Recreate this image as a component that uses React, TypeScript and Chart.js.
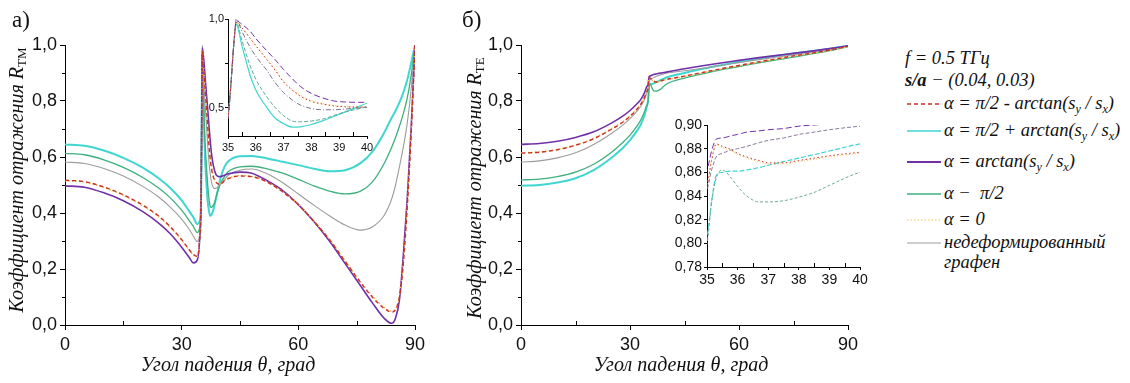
import React, { useEffect, useRef } from 'react';
import { Chart, registerables } from 'chart.js';

Chart.register(...registerables);

// ---------- Panel а) : R_TM ----------
const anglesTM = [0, 5, 10, 15, 20, 24, 27, 30, 32, 33, 34, 34.6, 35, 35.1, 35.2, 35.3, 35.5, 35.8, 36, 36.4, 36.7, 37, 37.3, 37.6, 38, 38.4, 38.8, 39.2, 39.6, 40, 41, 42, 45, 48, 52, 56, 60, 64, 68, 72, 76, 79, 82, 84, 85, 86, 87, 88, 89, 90];
const tmPlus = [0.645, 0.640, 0.623, 0.597, 0.562, 0.525, 0.49, 0.445, 0.405, 0.385, 0.36, 0.37, 0.45, 0.62, 0.84, 0.97, 0.85, 0.68, 0.60, 0.50, 0.44, 0.41, 0.39, 0.392, 0.405, 0.425, 0.45, 0.475, 0.50, 0.525, 0.565, 0.585, 0.603, 0.604, 0.595, 0.583, 0.571, 0.558, 0.549, 0.553, 0.578, 0.618, 0.685, 0.74, 0.765, 0.795, 0.83, 0.875, 0.935, 1.0];
const tmHalfPi = [0.613, 0.608, 0.590, 0.563, 0.527, 0.49, 0.455, 0.41, 0.372, 0.352, 0.33, 0.345, 0.45, 0.62, 0.84, 0.98, 0.88, 0.735, 0.66, 0.56, 0.50, 0.455, 0.425, 0.42, 0.425, 0.435, 0.455, 0.475, 0.49, 0.505, 0.53, 0.548, 0.565, 0.567, 0.558, 0.542, 0.52, 0.497, 0.478, 0.468, 0.478, 0.51, 0.575, 0.635, 0.67, 0.71, 0.755, 0.81, 0.89, 1.0];
const tmPristine = [0.582, 0.577, 0.559, 0.532, 0.495, 0.458, 0.422, 0.378, 0.34, 0.318, 0.298, 0.32, 0.45, 0.62, 0.85, 1.0, 0.93, 0.84, 0.79, 0.71, 0.64, 0.585, 0.545, 0.515, 0.495, 0.488, 0.488, 0.492, 0.497, 0.502, 0.52, 0.535, 0.553, 0.557, 0.54, 0.508, 0.468, 0.428, 0.39, 0.357, 0.339, 0.35, 0.39, 0.45, 0.50, 0.565, 0.635, 0.72, 0.84, 1.0];
const tmMinus = [0.517, 0.512, 0.493, 0.465, 0.428, 0.39, 0.352, 0.305, 0.268, 0.252, 0.245, 0.30, 0.45, 0.62, 0.84, 0.98, 0.95, 0.89, 0.85, 0.77, 0.71, 0.645, 0.60, 0.565, 0.535, 0.52, 0.51, 0.505, 0.503, 0.503, 0.515, 0.523, 0.532, 0.53, 0.51, 0.475, 0.43, 0.37, 0.305, 0.228, 0.152, 0.10, 0.06, 0.046, 0.055, 0.10, 0.22, 0.42, 0.68, 1.0];
const tmZero = [0.515, 0.51, 0.491, 0.463, 0.426, 0.388, 0.35, 0.303, 0.266, 0.25, 0.244, 0.30, 0.45, 0.62, 0.84, 0.98, 0.95, 0.89, 0.85, 0.775, 0.715, 0.65, 0.605, 0.57, 0.54, 0.523, 0.512, 0.507, 0.505, 0.505, 0.517, 0.525, 0.534, 0.531, 0.511, 0.476, 0.431, 0.372, 0.307, 0.23, 0.155, 0.104, 0.064, 0.05, 0.058, 0.105, 0.225, 0.425, 0.685, 1.0];
const tmArctan = [0.497, 0.492, 0.472, 0.444, 0.405, 0.365, 0.327, 0.278, 0.24, 0.222, 0.232, 0.30, 0.45, 0.62, 0.84, 0.99, 0.97, 0.93, 0.89, 0.82, 0.77, 0.715, 0.665, 0.62, 0.58, 0.555, 0.538, 0.532, 0.53, 0.53, 0.535, 0.54, 0.546, 0.542, 0.515, 0.48, 0.43, 0.37, 0.30, 0.22, 0.14, 0.08, 0.025, 0.006, 0.025, 0.09, 0.25, 0.45, 0.70, 1.0];

// ---------- Panel б) : R_TE ----------
const anglesTE = [0, 5, 10, 15, 20, 25, 28, 30, 32, 33, 34, 34.5, 35, 35.15, 35.3, 35.5, 35.8, 36, 36.3, 36.7, 37, 37.5, 38, 38.5, 39, 40, 45, 50, 55, 60, 65, 70, 75, 80, 85, 90];
const tePlus = [0.497, 0.500, 0.509, 0.524, 0.553, 0.598, 0.632, 0.66, 0.695, 0.717, 0.75, 0.775, 0.805, 0.835, 0.857, 0.86, 0.861, 0.861, 0.862, 0.864, 0.866, 0.869, 0.872, 0.875, 0.878, 0.884, 0.9, 0.915, 0.928, 0.94, 0.951, 0.961, 0.97, 0.978, 0.987, 0.997];
const teHalfPi = [0.518, 0.521, 0.53, 0.546, 0.574, 0.618, 0.652, 0.678, 0.712, 0.733, 0.762, 0.782, 0.80, 0.835, 0.855, 0.862, 0.855, 0.848, 0.84, 0.835, 0.835, 0.836, 0.839, 0.843, 0.849, 0.86, 0.882, 0.897, 0.911, 0.923, 0.935, 0.946, 0.957, 0.968, 0.98, 0.994];
const tePristine = [0.582, 0.586, 0.597, 0.615, 0.645, 0.685, 0.714, 0.737, 0.765, 0.782, 0.806, 0.825, 0.845, 0.862, 0.873, 0.876, 0.879, 0.88, 0.882, 0.885, 0.887, 0.889, 0.892, 0.894, 0.896, 0.899, 0.908, 0.917, 0.927, 0.937, 0.947, 0.956, 0.965, 0.975, 0.985, 0.996];
const teMinus = [0.614, 0.617, 0.626, 0.642, 0.665, 0.70, 0.724, 0.745, 0.772, 0.789, 0.813, 0.83, 0.848, 0.87, 0.884, 0.882, 0.879, 0.876, 0.873, 0.87, 0.868, 0.868, 0.87, 0.872, 0.874, 0.877, 0.889, 0.902, 0.915, 0.927, 0.939, 0.95, 0.961, 0.971, 0.982, 0.995];
const teZero = [0.615, 0.618, 0.627, 0.643, 0.667, 0.702, 0.726, 0.747, 0.774, 0.791, 0.815, 0.832, 0.85, 0.871, 0.883, 0.881, 0.878, 0.875, 0.872, 0.869, 0.867, 0.867, 0.869, 0.871, 0.873, 0.876, 0.888, 0.901, 0.914, 0.926, 0.938, 0.949, 0.96, 0.97, 0.981, 0.994];
const teArctan = [0.645, 0.648, 0.656, 0.67, 0.69, 0.722, 0.746, 0.766, 0.791, 0.806, 0.83, 0.848, 0.862, 0.878, 0.888, 0.889, 0.891, 0.892, 0.894, 0.895, 0.896, 0.897, 0.899, 0.9, 0.901, 0.903, 0.915, 0.926, 0.936, 0.945, 0.954, 0.962, 0.97, 0.978, 0.987, 0.997];

// ---------- Ticks ----------
const mainXTicks = [0, 30, 60, 90];
const mainXMinor = [15, 45, 75];
const mainYTicks = [0, 0.2, 0.4, 0.6, 0.8, 1.0];
const mainYMinor = [0.1, 0.3, 0.5, 0.7, 0.9];
const insetXTicks = [35, 36, 37, 38, 39, 40];
const insetXMinor = [35.5, 36.5, 37.5, 38.5, 39.5];
const insetAYTicks = [0.5, 1.0];
const insetAYMinor = [0.75];
const insetBYTicks = [0.78, 0.8, 0.82, 0.84, 0.86, 0.88, 0.9];
const insetBYMinor: number[] = [];

// ---------- Styles ----------
const C_MINUS = '#C8302A';
const C_PLUS = '#3FD6D2';
const C_ARCTAN = '#7030A8';
const C_HALF = '#3DB07C';
const C_ZERO = '#F0BE4A';
const C_PRIST = '#9C9C9C';

type Series = { values: number[]; color: string; width: number; dash: number[] };

const tmMainSeries: Series[] = [
  { values: tmMinus, color: C_MINUS, width: 1.4, dash: [4, 3] },
  { values: tmZero, color: C_ZERO, width: 1.4, dash: [1.5, 2] },
  { values: tmArctan, color: C_ARCTAN, width: 1.6, dash: [] },
  { values: tmPristine, color: C_PRIST, width: 1.1, dash: [] },
  { values: tmHalfPi, color: C_HALF, width: 1.3, dash: [] },
  { values: tmPlus, color: C_PLUS, width: 2, dash: [] },
];
const tmInsetSeries: Series[] = [
  { values: tmMinus, color: C_MINUS, width: 1, dash: [1.5, 2.5] },
  { values: tmZero, color: C_ZERO, width: 1, dash: [1, 2] },
  { values: tmArctan, color: C_ARCTAN, width: 1, dash: [6, 3] },
  { values: tmPristine, color: '#7a7090', width: 1, dash: [5, 2, 1, 2] },
  { values: tmHalfPi, color: '#5aa89a', width: 1, dash: [4, 2] },
  { values: tmPlus, color: C_PLUS, width: 1.2, dash: [] },
];
const teMainSeries: Series[] = [
  { values: teMinus, color: C_MINUS, width: 1.4, dash: [4, 3] },
  { values: teZero, color: C_ZERO, width: 1.4, dash: [1.5, 2] },
  { values: teArctan, color: C_ARCTAN, width: 1.6, dash: [] },
  { values: tePristine, color: C_PRIST, width: 1.1, dash: [] },
  { values: teHalfPi, color: C_HALF, width: 1.3, dash: [] },
  { values: tePlus, color: C_PLUS, width: 2, dash: [] },
];
const teInsetSeries: Series[] = [
  { values: teMinus, color: C_MINUS, width: 1, dash: [1.5, 2.5] },
  { values: teZero, color: C_ZERO, width: 1, dash: [1, 2] },
  { values: teArctan, color: C_ARCTAN, width: 1, dash: [6, 3] },
  { values: tePristine, color: '#8a7a9a', width: 1, dash: [4, 2] },
  { values: teHalfPi, color: '#6aaa98', width: 1, dash: [3, 2] },
  { values: tePlus, color: C_PLUS, width: 1.2, dash: [5, 2] },
];

const SANS = '"Liberation Sans", Arial, sans-serif';
const SERIF = '"Liberation Serif", "Times New Roman", "DejaVu Serif", serif';

type Area = { l: number; r: number; t: number; b: number };
interface PlotProps {
  left: number; top: number; width: number; height: number;
  area: Area;
  xMin: number; xMax: number; xTicks: number[]; xMinor: number[];
  yMin: number; yMax: number; yTicks: number[]; yMinor: number[];
  yDecimals: number;
  fontSize: number;
  tickLen: number; xPad: number; yPad: number;
  angles: number[];
  series: Series[];
}

function Plot(p: PlotProps) {
  const ref = useRef<HTMLCanvasElement>(null);
  useEffect(() => {
    const canvas = ref.current!;
    const minorPlugin = {
      id: 'minorTicks',
      afterDraw(chart: any) {
        const { ctx, chartArea, scales } = chart;
        ctx.save();
        ctx.strokeStyle = '#000';
        ctx.lineWidth = 1;
        for (const v of p.xMinor) {
          const x = Math.round(scales.x.getPixelForValue(v)) + 0.5;
          ctx.beginPath();
          ctx.moveTo(x, chartArea.bottom);
          ctx.lineTo(x, chartArea.bottom - 4);
          ctx.stroke();
        }
        for (const v of p.yMinor) {
          const y = Math.round(scales.y.getPixelForValue(v)) + 0.5;
          ctx.beginPath();
          ctx.moveTo(chartArea.left, y);
          ctx.lineTo(chartArea.left - 3, y);
          ctx.stroke();
        }
        ctx.restore();
      },
    };
    const chart = new Chart(canvas, {
      type: 'line',
      data: {
        datasets: p.series.map((s) => ({
          data: p.angles.map((a, i) => ({ x: a, y: s.values[i] })),
          borderColor: s.color,
          borderWidth: s.width,
          borderDash: s.dash,
          pointRadius: 0,
          fill: false,
          cubicInterpolationMode: 'monotone' as const,
        })),
      },
      options: {
        responsive: false,
        animation: false,
        events: [],
        layout: { padding: { left: 0, top: p.area.t, right: p.width - p.area.r, bottom: 0 } },
        plugins: { legend: { display: false }, tooltip: { enabled: false } },
        scales: {
          x: {
            type: 'linear',
            min: p.xMin,
            max: p.xMax,
            afterBuildTicks: (s: any) => { s.ticks = p.xTicks.map((v) => ({ value: v })); },
            afterFit: (s: any) => { s.height = p.height - p.area.b; },
            ticks: {
              callback: (v: any) => String(v),
              font: { family: SANS, size: p.fontSize },
              color: '#111',
              padding: p.xPad,
              maxRotation: 0,
              autoSkip: false,
            },
            grid: { drawOnChartArea: false, drawTicks: true, tickLength: p.tickLen, color: '#000' },
            border: { color: '#000', width: 1 },
          },
          y: {
            type: 'linear',
            min: p.yMin,
            max: p.yMax,
            afterBuildTicks: (s: any) => { s.ticks = p.yTicks.map((v) => ({ value: v })); },
            afterFit: (s: any) => { s.width = p.area.l; },
            ticks: {
              callback: (v: any) => Number(v).toFixed(p.yDecimals).replace('.', ','),
              font: { family: SANS, size: p.fontSize },
              color: '#111',
              padding: p.yPad,
              autoSkip: false,
            },
            grid: { drawOnChartArea: false, drawTicks: true, tickLength: p.tickLen, color: '#000' },
            border: { color: '#000', width: 1 },
          },
        },
      },
      plugins: [minorPlugin],
    } as any);
    return () => chart.destroy();
  }, []);
  return (
    <canvas
      ref={ref}
      width={p.width}
      height={p.height}
      style={{ position: 'absolute', left: p.left, top: p.top, width: p.width, height: p.height }}
    />
  );
}

const abs = (l: number, cy: number, extra: React.CSSProperties = {}): React.CSSProperties => ({
  position: 'absolute', left: l, top: cy - 12, height: 24, lineHeight: '24px', whiteSpace: 'nowrap', ...extra,
});

const subStyle: React.CSSProperties = { fontSize: 12, verticalAlign: 'baseline', position: 'relative', top: 4 };

function LegendLine({ y, color, width, dash }: { y: number; color: string; width: number; dash: string }) {
  return (
    <svg style={{ position: 'absolute', left: 906, top: y - 3, width: 36, height: 6 }} width={36} height={6}>
      <line x1={1} y1={3} x2={35} y2={3} stroke={color} strokeWidth={width} strokeDasharray={dash} />
    </svg>
  );
}

const titleStyle: React.CSSProperties = {
  position: 'absolute', whiteSpace: 'nowrap', fontFamily: SERIF, fontStyle: 'italic', fontSize: 20, color: '#111',
};

export default function App() {
  const legendText: React.CSSProperties = { fontFamily: SERIF, fontStyle: 'italic', fontSize: 18.5, color: '#111' };
  return (
    <div style={{ position: 'fixed', left: 0, top: 0, width: 1130, height: 383, background: '#fff', overflow: 'hidden' }}>
      <Plot
        left={0} top={0} width={440} height={383}
        area={{ l: 65, r: 415, t: 45, b: 325 }}
        xMin={0} xMax={90} xTicks={mainXTicks} xMinor={mainXMinor}
        yMin={0} yMax={1} yTicks={mainYTicks} yMinor={mainYMinor} yDecimals={1}
        fontSize={18} tickLen={5} xPad={4} yPad={3}
        angles={anglesTM} series={tmMainSeries}
      />
      <Plot
        left={170} top={0} width={210} height={160}
        area={{ l: 58, r: 197, t: 19, b: 136 }}
        xMin={35} xMax={40} xTicks={insetXTicks} xMinor={insetXMinor}
        yMin={0.34} yMax={1} yTicks={insetAYTicks} yMinor={insetAYMinor} yDecimals={1}
        fontSize={11} tickLen={3} xPad={2} yPad={1}
        angles={anglesTM} series={tmInsetSeries}
      />
      <Plot
        left={440} top={0} width={440} height={383}
        area={{ l: 81, r: 408, t: 45, b: 325 }}
        xMin={0} xMax={90} xTicks={mainXTicks} xMinor={mainXMinor}
        yMin={0} yMax={1} yTicks={mainYTicks} yMinor={mainYMinor} yDecimals={1}
        fontSize={18} tickLen={5} xPad={4} yPad={3}
        angles={anglesTE} series={teMainSeries}
      />
      <Plot
        left={640} top={100} width={240} height={200}
        area={{ l: 67, r: 220, t: 25, b: 167 }}
        xMin={35} xMax={40} xTicks={insetXTicks} xMinor={insetXMinor}
        yMin={0.78} yMax={0.9} yTicks={insetBYTicks} yMinor={insetBYMinor} yDecimals={2}
        fontSize={14} tickLen={3} xPad={2} yPad={2}
        angles={anglesTE} series={teInsetSeries}
      />

      {/* panel labels */}
      <div style={abs(12, 20, { fontFamily: SERIF, fontSize: 23, color: '#111' })}>а)</div>
      <div style={abs(462, 20, { fontFamily: SERIF, fontSize: 23, color: '#111' })}>б)</div>

      {/* axis titles */}
      <div style={{ ...titleStyle, left: 228, top: 364, transform: 'translate(-50%, -50%)' }}>
        Угол падения θ, град
      </div>
      <div style={{ ...titleStyle, left: 681, top: 364, transform: 'translate(-50%, -50%)' }}>
        Угол падения θ, град
      </div>
      <div style={{ ...titleStyle, left: 16, top: 180, transform: 'translate(-50%, -50%) rotate(-90deg)' }}>
        Коэффициент отражения R<span style={{ fontSize: 13, fontStyle: 'normal', position: 'relative', top: 3 }}>TM</span>
      </div>
      <div style={{ ...titleStyle, left: 474, top: 188, transform: 'translate(-50%, -50%) rotate(-90deg)' }}>
        Коэффициент отражения R<span style={{ fontSize: 13, fontStyle: 'normal', position: 'relative', top: 3 }}>TE</span>
      </div>

      {/* legend */}
      <div style={abs(905, 58, legendText)}>f = 0.5 ТГц</div>
      <div style={abs(905, 80, legendText)}><b>s/a</b> − (0.04, 0.03)</div>

      <LegendLine y={104} color={C_MINUS} width={1.6} dash="4 3" />
      <div style={abs(944, 103, legendText)}>α = π/2 - arctan(s<sub style={subStyle}>y</sub> / s<sub style={subStyle}>x</sub>)</div>

      <LegendLine y={131} color={C_PLUS} width={1.6} dash="" />
      <div style={abs(944, 130, legendText)}>α = π/2 + arctan(s<sub style={subStyle}>y</sub> / s<sub style={subStyle}>x</sub>)</div>

      <LegendLine y={162} color={C_ARCTAN} width={1.8} dash="" />
      <div style={abs(944, 161, legendText)}>α = arctan(s<sub style={subStyle}>y</sub> / s<sub style={subStyle}>x</sub>)</div>

      <LegendLine y={194} color={C_HALF} width={1.4} dash="" />
      <div style={abs(944, 193, legendText)}>α −&nbsp; π/2</div>

      <LegendLine y={220} color="#F3DA8C" width={1.4} dash="1.5 2" />
      <div style={abs(944, 219, legendText)}>α = 0</div>

      <LegendLine y={243} color={C_PRIST} width={1} dash="" />
      <div style={abs(944, 242, legendText)}>недеформированный</div>
      <div style={abs(944, 262, legendText)}>графен</div>
    </div>
  );
}
